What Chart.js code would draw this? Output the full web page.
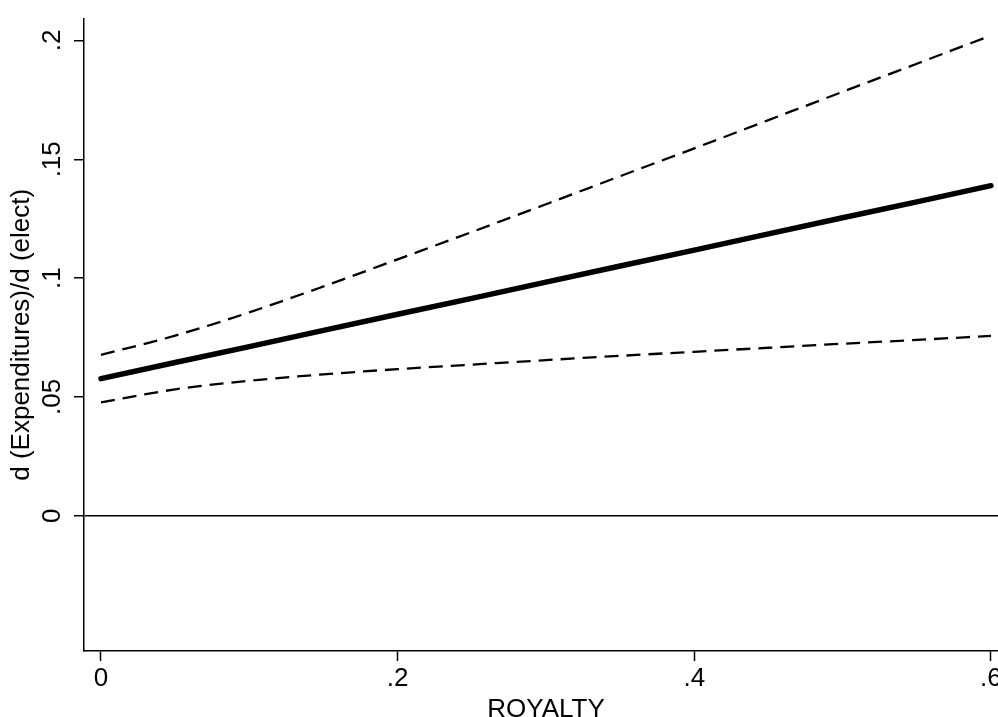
<!DOCTYPE html>
<html>
<head>
<meta charset="utf-8">
<script src="https://cdn.jsdelivr.net/npm/chart.js@4.4.1/dist/chart.umd.min.js"></script>
<style>
  html, body { margin: 0; padding: 0; background: #fff; overflow: hidden; }
  #wrap { width: 998px; height: 717px; overflow: hidden; }
  canvas { display: block; }
</style>
</head>
<body>
<div id="wrap"><canvas id="c" width="1008" height="725"></canvas></div>
<script>
// Royalty share (x) and the marginal effect of elect on expenditures
const royalty   = [0, 0.05, 0.1, 0.15, 0.2, 0.25, 0.3, 0.35, 0.4, 0.45, 0.5, 0.55, 0.6];
const effect    = [0.0577, 0.0645, 0.0712, 0.0780, 0.0848, 0.0915, 0.0983, 0.1051, 0.1118, 0.1186, 0.1254, 0.1321, 0.1389];
const upperCI   = [0.0677, 0.0758, 0.0856, 0.0965, 0.1079, 0.1194, 0.1311, 0.1429, 0.1546, 0.1665, 0.1784, 0.1902, 0.2021];
const lowerCI   = [0.0477, 0.0532, 0.0568, 0.0595, 0.0617, 0.0636, 0.0655, 0.0673, 0.0690, 0.0707, 0.0724, 0.0740, 0.0757];

const xTicks      = [0, 0.2, 0.4, 0.6];
const xTickLabels = ['0', '.2', '.4', '.6'];
const yTicks      = [0, 0.05, 0.1, 0.15, 0.2];
const yTickLabels = ['0', '.05', '.1', '.15', '.2'];

const xTitle = 'ROYALTY';
const yTitle = 'd (Expenditures)/d (elect)';

const pts = ys => royalty.map((x, i) => ({ x: x, y: ys[i] }));
const FONT = { family: "'Liberation Sans', Arial, Helvetica, sans-serif", size: 26 };

new Chart(document.getElementById('c'), {
  type: 'line',
  data: {
    datasets: [
      { data: pts(upperCI), borderColor: '#000', borderWidth: 2.3, borderDash: [14, 8], pointRadius: 0, cubicInterpolationMode: 'monotone', fill: false },
      { data: pts(lowerCI), borderColor: '#000', borderWidth: 2.3, borderDash: [14, 8], pointRadius: 0, cubicInterpolationMode: 'monotone', fill: false },
      { data: pts(effect),  borderColor: '#000', borderWidth: 5.5, borderCapStyle: 'round', pointRadius: 0, fill: false }
    ]
  },
  options: {
    responsive: false,
    animation: false,
    devicePixelRatio: 1,
    layout: { padding: { top: 15, left: 0, right: 0, bottom: 0 } },
    plugins: { legend: { display: false }, tooltip: { enabled: false } },
    scales: {
      x: {
        type: 'linear',
        min: -0.01146,
        max: 0.6115,
        afterBuildTicks: s => { s.ticks = xTicks.map(v => ({ value: v })); },
        afterFit: s => { s.height = 74; },
        ticks: {
          color: '#000', font: FONT, padding: 2, maxRotation: 0, autoSkip: false,
          callback: v => { const i = xTicks.indexOf(v); return i >= 0 ? xTickLabels[i] : ''; }
        },
        grid: { drawOnChartArea: false, drawTicks: true, tickLength: 10, tickColor: '#000', tickWidth: 1.5 },
        border: { display: true, color: '#000', width: 1.5 },
        title: { display: true, text: xTitle, color: '#000', font: FONT, padding: { top: 0, bottom: 0 } }
      },
      y: {
        type: 'linear',
        min: -0.0569,
        max: 0.2092,
        afterBuildTicks: s => { s.ticks = yTicks.map(v => ({ value: v })); },
        afterFit: s => { s.width = 84; },
        ticks: {
          color: '#000', font: FONT, padding: 3, minRotation: 90, maxRotation: 90, autoSkip: false,
          crossAlign: 'center',
          callback: v => { const i = yTicks.indexOf(v); return i >= 0 ? yTickLabels[i] : ''; }
        },
        grid: {
          drawOnChartArea: true, drawTicks: true, tickLength: 10, tickColor: '#000', tickWidth: 1.5,
          color: c => (c.tick && c.tick.value === 0) ? '#000' : 'rgba(0,0,0,0)',
          lineWidth: 1.5
        },
        border: { display: true, color: '#000', width: 1.5 },
        title: { display: true, text: yTitle, color: '#000', font: FONT, padding: { top: 6, bottom: 0 } }
      }
    }
  }
});
</script>
</body>
</html>
